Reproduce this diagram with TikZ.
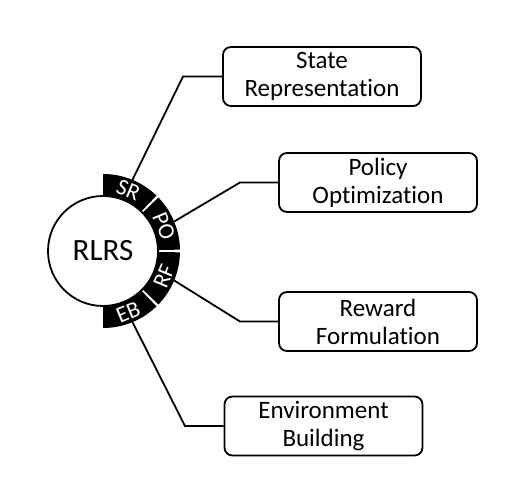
\documentclass[tikz,border=0pt]{standalone}
\usepackage{fontspec}
\setmainfont{Carlito}[RawFeature=-liga]
\usetikzlibrary{calc}
\begin{document}
\begin{tikzpicture}[x=1pt,y=1pt,
  topic/.style={draw=black, line width=1.8pt, rounded corners=8pt, minimum width=198pt, minimum height=59pt, align=center, inner sep=0pt, font=\fontsize{25}{28}\selectfont},
  conn/.style={draw=black, line width=1.8pt},
  bandlabel/.style={text=white, font=\fontsize{23}{24}\selectfont, inner sep=0pt},
  sep/.style={draw=white, line width=3pt}]
\useasboundingbox (0,0) rectangle (512,492);
\coordinate (c) at (103,241);
% ring segments
\foreach \a/\b in {90/46,44/1,-1/-44,-46/-90}{
  \fill[black] ($(c)+(\a:53)$) arc[start angle=\a, end angle=\b, radius=53]
    -- ($(c)+(\b:77)$) arc[start angle=\b, end angle=\a, radius=77] -- cycle;
}
\filldraw[draw=black, fill=white, line width=1.8pt] (c) circle[radius=55];
\node[font=\fontsize{31}{36}\selectfont, inner sep=0pt] (hub) at (c) {RLRS};
\node[bandlabel, rotate=-22.5] (lsr) at ($(c)+(67.5:66)$) {SR};
\node[bandlabel, rotate=-67.5] (lpo) at ($(c)+(22.5:66)$) {PO};
\node[bandlabel, rotate=67.5] (lrf) at ($(c)+(-22.5:66)$) {RF};
\node[bandlabel, rotate=22.5] (leb) at ($(c)+(-67.5:66)$) {EB};
% boxes
\node[topic] (sr) at (322,415.5) {State\\Representation};
\node[topic] (po) at (378,309.5) {Policy\\Optimization};
\node[topic] (rf) at (378,170.5) {Reward\\Formulation};
\node[topic] (eb) at (323.5,66) {Environment\\Building};
% connectors
\coordinate (s1) at ($(c)+(67.5:77)$);
\coordinate (s2) at ($(c)+(22.5:77)$);
\coordinate (s3) at ($(c)+(-22.5:77)$);
\coordinate (s4) at ($(c)+(-67.5:77)$);
\coordinate (k1) at (183,415.5);
\coordinate (k2) at (240,309.5);
\coordinate (k3) at (240,170.5);
\coordinate (k4) at (185,66);
\draw[conn] (s1) -- (k1) -- (sr.west);
\draw[conn] (s2) -- (k2) -- (po.west);
\draw[conn] (s3) -- (k3) -- (rf.west);
\draw[conn] (s4) -- (k4) -- (eb.west);
\end{tikzpicture}
\end{document}
